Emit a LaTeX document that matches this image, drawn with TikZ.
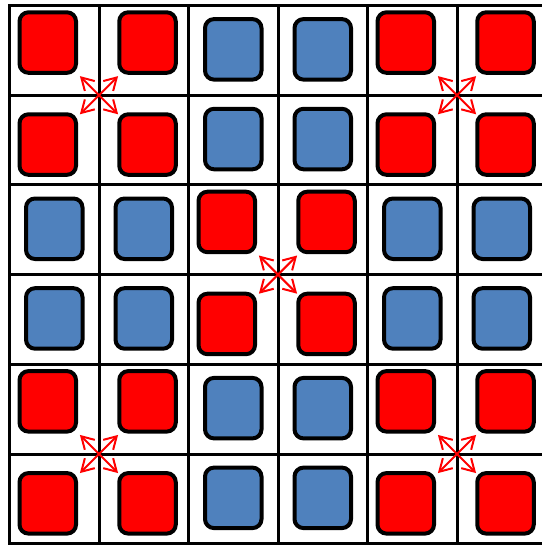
\documentclass[tikz,border=0pt]{standalone}
\usetikzlibrary{arrows.meta}
\definecolor{tileblue}{RGB}{79,129,189}

\begin{document}
\begin{tikzpicture}[x=1pt,y=-1pt,
  >={Straight Barb[length=12pt,width=14pt]},
  tile/.style={draw=black,line width=4pt,rounded corners=9pt,
    minimum width=56.5pt,minimum height=60.5pt,inner sep=0pt},
  gridline/.style={line width=3pt,line cap=rect},
  spread/.style={red,line width=2pt,->}]
  \useasboundingbox (0,0) rectangle (541,546);
  % red blocks: tiles pushed apart, arrows at the corner
  \foreach \bx/\by in {0/0,2/0,1/1,0/2,2/2} {
    \coordinate (m\bx\by) at (99+179*\bx, 95.2+179.4*\by);
    \foreach \dx/\dy/\k in {-51.25/-52.65/a,48.5/-52.65/b,-51.25/49.35/c,48.5/49.35/d}
      \node[tile,fill=red] (r\bx\by\k) at ([shift={(\dx,\dy)}]m\bx\by) {};
  }
  % blue blocks: tiles in the middle of the cells
  \foreach \bx/\by in {1/0,0/1,2/1,1/2} {
    \coordinate (m\bx\by) at (99+179*\bx, 95.2+179.4*\by);
    \foreach \dx/\dy/\k in {-44.75/-45.85/a,44.75/-45.85/b,-44.75/43.85/c,44.75/43.85/d}
      \node[tile,fill=tileblue] (b\bx\by\k) at ([shift={(\dx,\dy)}]m\bx\by) {};
  }
  % grid
  \foreach \k in {0,...,6} {
    \draw[gridline] (9.5+89.5*\k,5.5) -- (9.5+89.5*\k,543.7);
    \draw[gridline] (9.5,5.5+89.7*\k) -- (546.5,5.5+89.7*\k);
  }
  % arrows
  \foreach \bx/\by in {0/0,2/0,1/1,0/2,2/2}
    \foreach \a in {45,135,225,315}
      \draw[spread] (m\bx\by) -- ++(\a:27);
\end{tikzpicture}
\end{document}
